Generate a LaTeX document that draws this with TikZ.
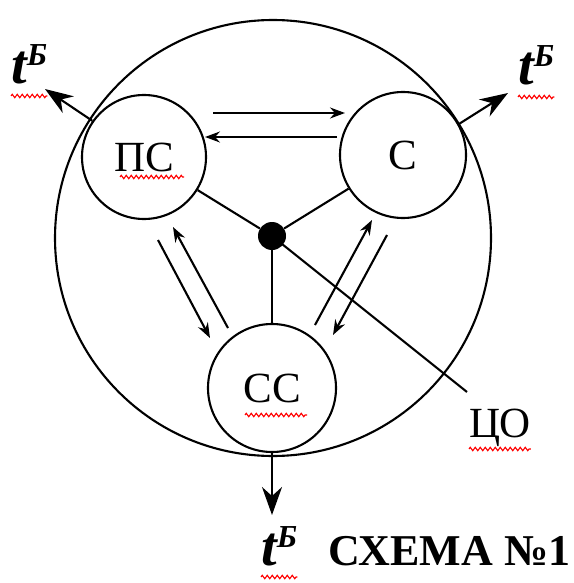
\documentclass[tikz,border=0pt]{standalone}
\usepackage{fontspec}
\setmainfont{Liberation Serif}
\usetikzlibrary{arrows.meta,decorations.pathmorphing}

\newcommand{\tBig}{{\fontsize{56}{56}\selectfont\bfseries\itshape t\raisebox{18pt}{\fontsize{32}{32}\selectfont Б}}}

\begin{document}
\begin{tikzpicture}[x=1pt,y=-1pt]
    \tikzstyle{every node}=[font=\fontsize{43}{46}\selectfont]
    \tikzstyle{block}=[circle, draw, line width=2.1, minimum size=126pt, inner sep=0]
    \tikzstyle{flow}=[line width=2.1, -{Stealth[length=15pt,width=11pt,inset=5pt]}]
    \tikzstyle{outflow}=[line width=2.1, -{Stealth[length=28pt,width=20pt,inset=9pt]}]
    \tikzstyle{squiggle}=[red, line width=1.1, decorate,
        decoration={zigzag, segment length=5pt, amplitude=1.7pt}]

      \useasboundingbox (0,0) rectangle (573,583);

      % outer circle
      \draw[line width=2.1] (273,238) circle (218pt);

      % blocks
      \node[block, minimum size=124pt] (PS) at (144,157) {ПС};
      \node[block] (S) at (403,155) {С};
      \node[block, minimum size=128pt] (SS) at (272,388) {СС};
      \node[circle, fill, minimum size=28pt, inner sep=0] (O) at (272,236) {};

      % spokes
      \coordinate (COend) at (467,392);
      \draw[line width=2.1] (O) -- (PS);
      \draw[line width=2.1] (O) -- (S);
      \draw[line width=2.1] (O) -- (SS);
      \draw[line width=2.1] (O.center) -- (COend);
      \node[anchor=base west, inner sep=0] (CO) at (469,437) {ЦО};

      % arrows PS - S
      \coordinate (a1) at (213,113);
      \coordinate (a2) at (345,113);
      \coordinate (b1) at (337,137);
      \coordinate (b2) at (205,137);
      \draw[flow] (a1) -- (a2);
      \draw[flow] (b1) -- (b2);

      % arrows PS - SS
      \coordinate (c1) at (158,240);
      \coordinate (c2) at (210,338);
      \coordinate (d1) at (228,328);
      \coordinate (d2) at (173,227);
      \draw[flow] (c1) -- (c2);
      \draw[flow] (d1) -- (d2);

      % arrows SS - S
      \coordinate (e1) at (315,325);
      \coordinate (e2) at (372,220);
      \coordinate (f1) at (387,235);
      \coordinate (f2) at (333,335);
      \draw[flow] (e1) -- (e2);
      \draw[flow] (f1) -- (f2);

      % heat outputs
      \coordinate (outL) at (45,89);
      \coordinate (outR) at (508,93);
      \coordinate (outB) at (272,515);
      \draw[outflow] (PS.145) -- (outL);
      \draw[outflow] (S.29) -- (outR);
      \draw[outflow] (SS.south) -- (outB);

      \node[anchor=base west, inner sep=0] (tL) at (11,84) {\tBig};
      \node[anchor=base west, inner sep=0] (tR) at (518,85) {\tBig};
      \node[anchor=base west, inner sep=0] (tB) at (261,565) {\tBig};
      \node[anchor=base west, inner sep=0, font=\fontsize{44}{46}\selectfont\bfseries]
          (title) at (328,565) {СХЕМА №1};

      % spelling marks
      \draw[squiggle] ([shift={(-24,20)}]PS.center) -- ([shift={(40,20)}]PS.center);
      \draw[squiggle] ([shift={(-27,27)}]SS.center) -- ([shift={(35,27)}]SS.center);
      \draw[squiggle] ([yshift=-12pt]CO.base west) -- ([yshift=-12pt]CO.base east);
      \draw[squiggle] ([yshift=-12pt]tL.base west) -- ([yshift=-12pt]tL.base east);
      \draw[squiggle] ([yshift=-12pt]tR.base west) -- ([yshift=-12pt]tR.base east);
      \draw[squiggle] ([yshift=-12pt]tB.base west) -- ([yshift=-12pt]tB.base east);
\end{tikzpicture}
\end{document}
